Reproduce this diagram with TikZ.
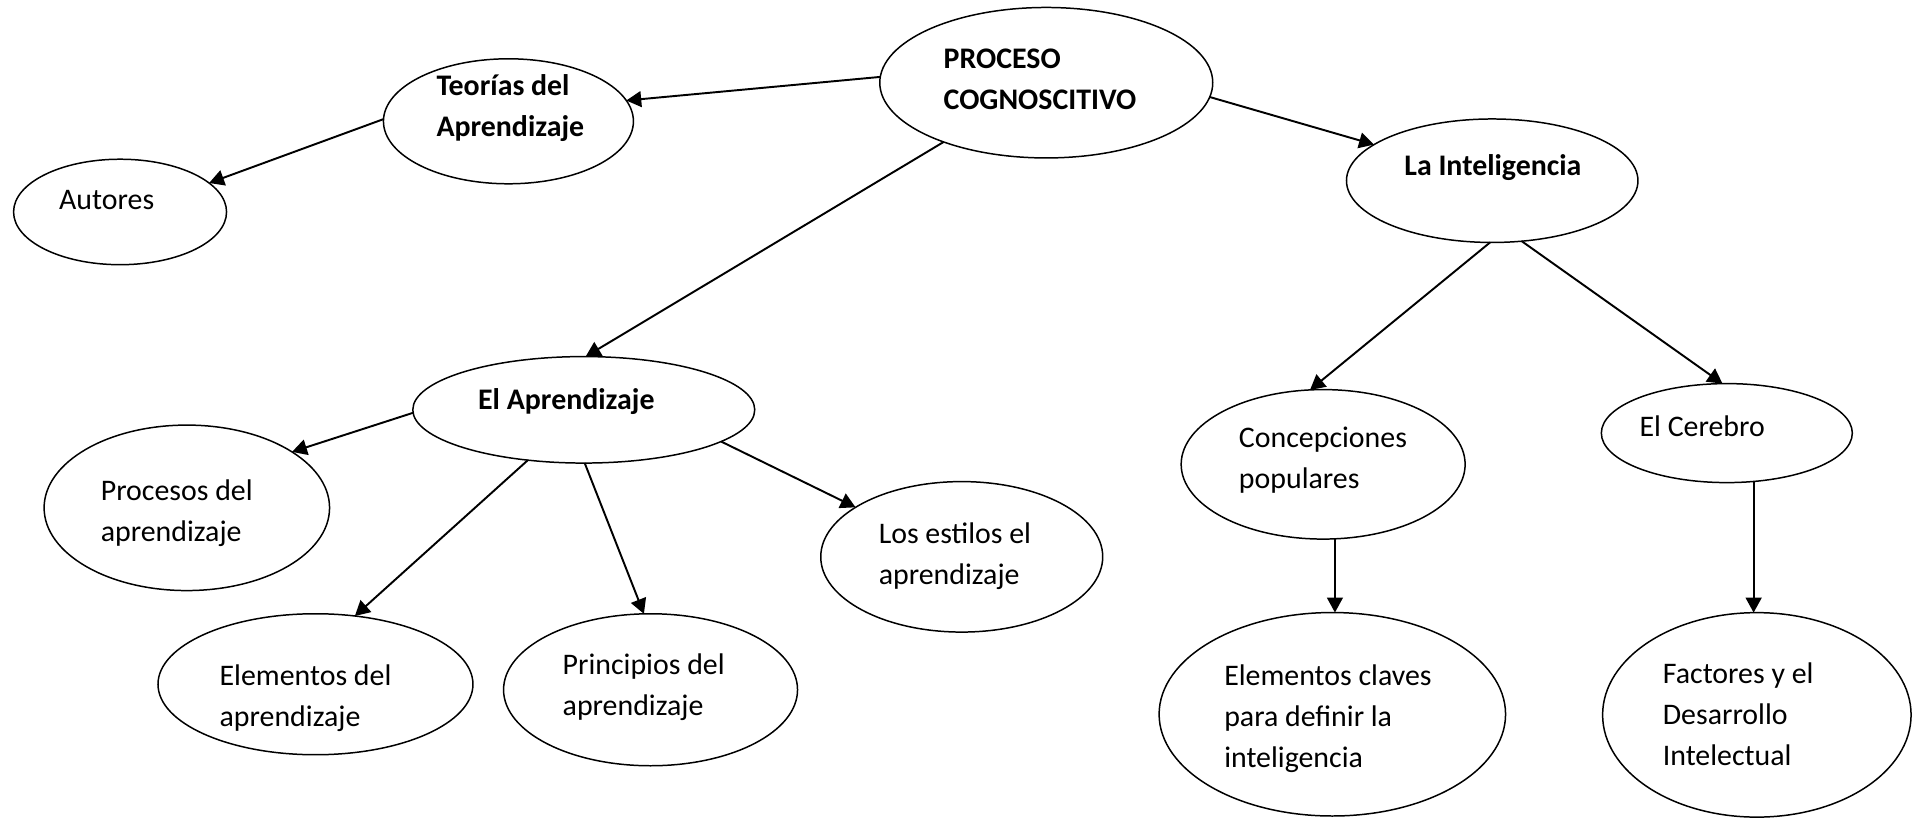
\documentclass[tikz,border=0pt]{standalone}
\usepackage{fontspec}
\setmainfont{Carlito}
\usepackage{tikz}
\usetikzlibrary{shapes.geometric, arrows.meta}

\begin{document}
\begin{tikzpicture}[x=0.0245cm, y=-0.0245cm,
  concepto/.style={ellipse, draw, line width=0.85pt, inner sep=0pt, outer sep=0pt},
  texto/.style={anchor=north west, align=left, inner sep=0pt,
    font=\fontsize{17}{23.3}\selectfont, execute at begin node=\strut},
  textob/.style={texto, font=\fontsize{17}{23.3}\selectfont\bfseries},
  flecha/.style={line width=1.1pt, -{Triangle[length=8.5pt,width=9pt]}}]
\useasboundingbox (0,0) rectangle (1568,673);

% ovals
\node[concepto, minimum width=6.66cm, minimum height=3.01cm] (pc) at (854,67.5) {};
\node[concepto, minimum width=5.00cm, minimum height=2.50cm] (tea) at (415,99) {};
\node[concepto, minimum width=4.26cm, minimum height=2.11cm] (aut) at (98,173) {};
\node[concepto, minimum width=5.83cm, minimum height=2.47cm] (li) at (1218,147.5) {};
\node[concepto, minimum width=6.84cm, minimum height=2.13cm] (ea) at (476.5,334.5) {};
\node[concepto, minimum width=5.71cm, minimum height=3.31cm] (pa) at (152.5,414.5) {};
\node[concepto, minimum width=5.64cm, minimum height=3.01cm] (le) at (785,454.5) {};
\node[concepto, minimum width=6.30cm, minimum height=2.82cm] (el) at (257.5,558.5) {};
\node[concepto, minimum width=5.88cm, minimum height=3.04cm] (pr) at (531,563) {};
\node[concepto, minimum width=5.68cm, minimum height=2.99cm] (cp) at (1080,379) {};
\node[concepto, minimum width=5.02cm, minimum height=1.98cm] (cb) at (1409.5,353.5) {};
\node[concepto, minimum width=6.93cm, minimum height=4.07cm] (ek) at (1087.5,583) {};
\node[concepto, minimum width=6.17cm, minimum height=4.09cm] (fd) at (1434,583.5) {};

% texts
\node[textob] (pct) at (770,39.6) {PROCESO\\COGNOSCITIVO};
\node[textob] (teat) at (356,60.6) {Teorías del\\Aprendizaje};
\node[texto] (autt) at (48,147.6) {Autores};
\node[textob] (lit) at (1146,119.6) {La Inteligencia};
\node[textob] (eat) at (390,310.6) {El Aprendizaje};
\node[texto] (pat) at (82,391.1) {Procesos del\\aprendizaje};
\node[texto] (let) at (717,426.6) {Los estilos el\\aprendizaje};
\node[texto] (elt) at (179,542.6) {Elementos del\\aprendizaje};
\node[texto] (prt) at (459,533.6) {Principios del\\aprendizaje};
\node[texto] (cpt) at (1011,348.6) {Concepciones\\populares};
\node[texto] (cbt) at (1338,332.6) {El Cerebro};
\node[texto] (ekt) at (999,542.6) {Elementos claves\\para definir la\\inteligencia};
\node[texto] (fdt) at (1357,540.6) {Factores y el\\Desarrollo\\Intelectual};

% arrows
\draw[flecha] (pc.178) -- (tea.10);
\draw[flecha] (tea.179) -- (aut.18);
\draw[flecha] (pc.210) -- (ea.88);
\draw[flecha] (pc.355) -- (li.163);
\draw[flecha] (li.268) -- (cp.100);
\draw[flecha] (li.296) -- (cb.95);
\draw[flecha] (cp.279) -- (cp.279 |- ek.north);
\draw[flecha] (cb.299) -- (cb.299 |- fd.north);
\draw[flecha] (ea.181) -- (pa.28);
\draw[flecha] (ea.222) -- (el.60);
\draw[flecha] (ea.271) -- (pr.95);
\draw[flecha] (ea.347) -- (le.155);
\end{tikzpicture}
\end{document}
